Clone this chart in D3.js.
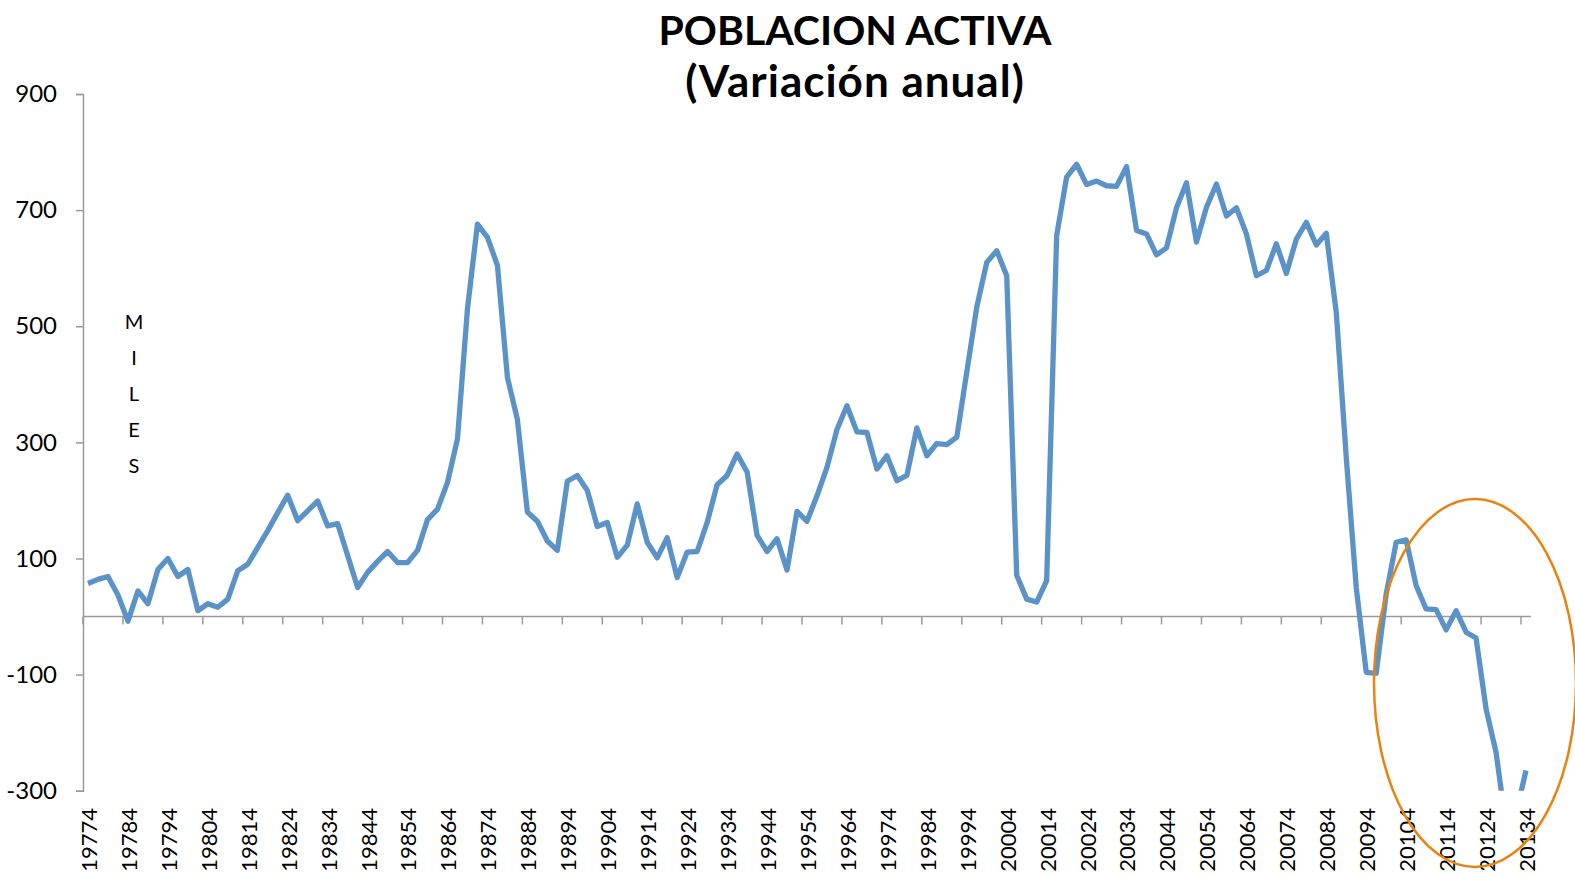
<!DOCTYPE html>
<html>
<head>
<meta charset="utf-8">
<title>POBLACION ACTIVA</title>
<script src="https://cdn.jsdelivr.net/npm/d3@7"></script>
<style>
    html, body { margin: 0; padding: 0; background: #fff; }
    #chart { width: 1575px; height: 876px; }
</style>
</head>
<body>
<div id="chart"></div>
<script>
// ==================== 数据 ====================
// 年度变化（千人），1977Q4 - 2013Q4，每季度一个点
const variacion = [
    57, 64, 69, 37, -8, 44, 22, 81, 100, 69, 81, 10, 22, 16, 30, 79,
    90, 119, 148, 179, 209, 165, 182, 199, 156, 160, 105, 50, 76, 95, 112, 93,
    93, 114, 167, 185, 231, 306, 530, 676, 653, 605, 412, 339, 180, 164, 130, 114,
    233, 243, 217, 155, 162, 102, 123, 194, 128, 101, 136, 67, 111, 112, 162, 227,
    243, 280, 249, 140, 112, 134, 80, 181, 164, 208, 257, 322, 363, 318, 317, 254,
    277, 234, 243, 325, 277, 298, 296, 309, 421, 533, 610, 630, 587, 71, 30, 25,
    62, 656, 757, 779, 744, 750, 742, 741, 775, 665, 659, 623, 635, 704, 747, 645,
    705, 745, 690, 704, 659, 587, 596, 642, 591, 650, 679, 640, 660, 524, 274, 50,
    -96, -98, 39, 128, 132, 53, 13, 12, -23, 10, -27, -37, -159, -234, -360, -340,
    -265
];

// 横轴标签（每4个季度一个）
const etiquetasX = [
    "19774", "19784", "19794", "19804", "19814", "19824", "19834", "19844",
    "19854", "19864", "19874", "19884", "19894", "19904", "19914", "19924",
    "19934", "19944", "19954", "19964", "19974", "19984", "19994", "20004",
    "20014", "20024", "20034", "20044", "20054", "20064", "20074", "20084",
    "20094", "20104", "20114", "20124", "20134"
];

const ticksY = [-300, -100, 100, 300, 500, 700, 900];
const dominioY = [-300, 900];
const tituloLineas = ["POBLACION ACTIVA", "(Variación anual)"];
const unidad = ["M", "I", "L", "E", "S"];

// ==================== 图表 ====================
const PoblacionChart = {
    config: {
        width: 1575,
        height: 876,
        left: 83,
        right: 1531,
        top: 94,
        bottom: 790.7,
        lineColor: "#5B93C9",
        lineWidth: 5.3,
        axisColor: "#9A9A9A",
        ellipseColor: "#E9820F",
        font: "Lato, 'Open Sans', sans-serif"
    },

    init(containerId = "#chart") {
        const c = this.config;
        this.svg = d3.select(containerId)
            .append("svg")
            .attr("width", c.width)
            .attr("height", c.height);

        this.x = d3.scaleBand()
            .domain(d3.range(variacion.length))
            .range([c.left, c.right])
            .padding(0);

        this.y = d3.scaleLinear()
            .domain(dominioY)
            .range([c.bottom, c.top]);

        // 裁剪区域（2013年的值低于 -300，被截断）
        this.svg.append("defs").append("clipPath")
            .attr("id", "plot-clip")
            .append("rect")
            .attr("x", c.left)
            .attr("y", c.top)
            .attr("width", c.right - c.left + 10)
            .attr("height", c.bottom - c.top);
    },

    render() {
        const c = this.config;
        const x = this.x, y = this.y;
        const bw = x.bandwidth();

        // 标题
        this.svg.append("text")
            .attr("x", 855)
            .attr("text-anchor", "middle")
            .style("font-family", c.font)
            .style("font-weight", "bold")
            .style("fill", "#000")
            .selectAll("tspan")
            .data(tituloLineas)
            .join("tspan")
            .attr("x", 855)
            .attr("y", (d, i) => i === 0 ? 44.5 : 97)
            .style("font-size", (d, i) => i === 0 ? "41px" : "44px")
            .style("letter-spacing", (d, i) => i === 0 ? "0px" : "1px")
            .text(d => d);

        // 纵轴
        const axisY = d3.axisLeft(y)
            .tickValues(ticksY)
            .tickSize(7)
            .tickPadding(19)
            .tickFormat(d => String(d));

        const gY = this.svg.append("g")
            .attr("transform", `translate(${c.left},0)`)
            .call(axisY);
        gY.select(".domain").attr("stroke", c.axisColor).attr("stroke-width", 1.5);
        gY.selectAll(".tick line").attr("stroke", c.axisColor).attr("stroke-width", 1.5);
        gY.selectAll(".tick text")
            .style("font-family", c.font)
            .style("font-size", "24px")
            .style("fill", "#000");

        // 横轴（在 0 处）
        const y0 = y(0);
        this.svg.append("line")
            .attr("x1", c.left)
            .attr("x2", c.right)
            .attr("y1", y0)
            .attr("y2", y0)
            .attr("stroke", c.axisColor)
            .attr("stroke-width", 1.5);

        const tickIdx = d3.range(0, variacion.length, 4);

        this.svg.append("g").selectAll("line")
            .data(tickIdx)
            .join("line")
            .attr("x1", d => x(d))
            .attr("x2", d => x(d))
            .attr("y1", y0)
            .attr("y2", y0 + 8)
            .attr("stroke", c.axisColor)
            .attr("stroke-width", 1.5);

        // 横轴标签放在底部
        this.svg.append("g").selectAll("text")
            .data(tickIdx)
            .join("text")
            .attr("transform", d => `translate(${x(d) + bw / 2 + 1},808) rotate(-90)`)
            .attr("text-anchor", "end")
            .attr("dy", "0.36em")
            .style("font-family", c.font)
            .style("font-size", "22px")
            .style("fill", "#000")
            .text((d, i) => etiquetasX[i]);

        // MILES 竖排
        this.svg.append("text")
            .attr("text-anchor", "middle")
            .style("font-family", c.font)
            .style("font-size", "20px")
            .style("fill", "#000")
            .selectAll("tspan")
            .data(unidad)
            .join("tspan")
            .attr("x", 134)
            .attr("y", (d, i) => 329 + i * 36)
            .text(d => d);

        // 折线
        const line = d3.line()
            .x((d, i) => x(i) + bw / 2)
            .y(d => y(d));

        this.svg.append("path")
            .datum(variacion)
            .attr("clip-path", "url(#plot-clip)")
            .attr("d", line)
            .attr("fill", "none")
            .attr("stroke", c.lineColor)
            .attr("stroke-width", c.lineWidth)
            .attr("stroke-linejoin", "round");

        // 橙色椭圆标注
        this.svg.append("ellipse")
            .attr("cx", 1475)
            .attr("cy", 683)
            .attr("rx", 101)
            .attr("ry", 184)
            .attr("fill", "none")
            .attr("stroke", c.ellipseColor)
            .attr("stroke-width", 2.5);
    }
};

PoblacionChart.init();
PoblacionChart.render();
</script>
</body>
</html>
